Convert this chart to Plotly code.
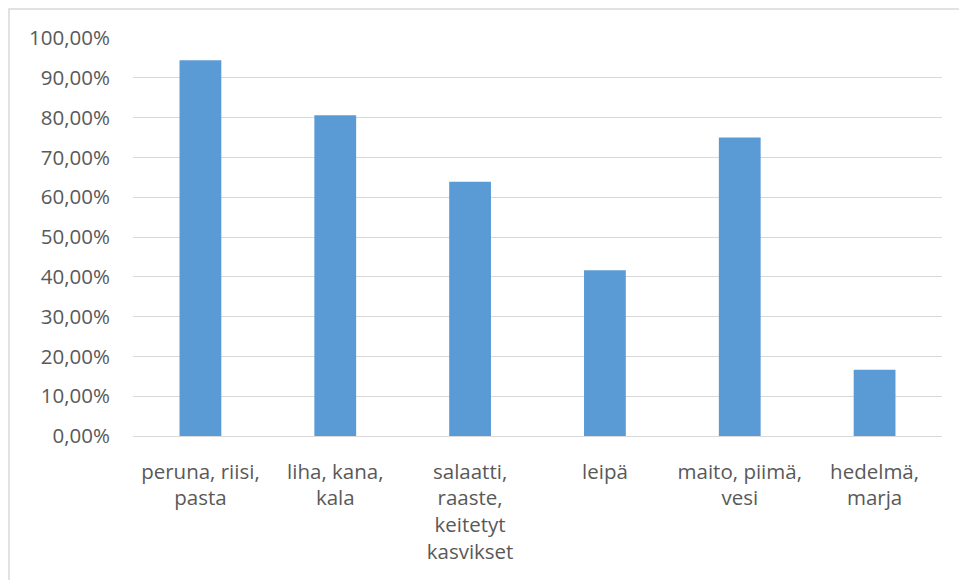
import plotly.graph_objects as go

# Food groups and the share of respondents choosing each
categories = [
    "peruna, riisi,<br>pasta",
    "liha, kana,<br>kala",
    "salaatti,<br>raaste,<br>keitetyt<br>kasvikset",
    "leipä",
    "maito, piimä,<br>vesi",
    "hedelmä,<br>marja",
]
shares = [0.9444, 0.8056, 0.6389, 0.4167, 0.75, 0.1667]
y_ticks = [0, 0.1, 0.2, 0.3, 0.4, 0.5, 0.6, 0.7, 0.8, 0.9, 1.0]

W, H = 959, 580
L, R, T, B = 133, 17, 38, 144
plot_w = W - L - R
plot_h = H - T - B

font = dict(family="Open Sans", size=20.5, color="#595959")

fig = go.Figure(
    go.Bar(
        x=categories,
        y=shares,
        marker=dict(color="#5b9bd5", line=dict(width=0)),
        hoverinfo="skip",
    )
)

fig.update_layout(
    width=W,
    height=H,
    margin=dict(l=L, r=R, t=T, b=B, pad=0),
    paper_bgcolor="white",
    plot_bgcolor="white",
    separators=", ",
    bargap=0.69,
    showlegend=False,
    font=font,
    shapes=[
        # chart frame, partly outside the visible page
        dict(
            type="rect",
            xref="paper",
            yref="paper",
            x0=(9 - L) / plot_w,
            x1=(W + 20 - L) / plot_w,
            y0=-(B + 20) / plot_h,
            y1=(H - B - 9) / plot_h,
            line=dict(color="#d9d9d9", width=1.5),
            fillcolor="rgba(0,0,0,0)",
            layer="below",
        )
    ],
)

fig.update_yaxes(
    range=[0, 1],
    tickvals=y_ticks,
    tickformat=".2%",
    showgrid=True,
    gridcolor="#d9d9d9",
    gridwidth=1,
    zeroline=False,
    showline=False,
    ticks="outside",
    ticklen=18,
    tickcolor="rgba(0,0,0,0)",
    tickfont=font,
    fixedrange=True,
)

fig.update_xaxes(
    showgrid=False,
    showline=True,
    linecolor="#d9d9d9",
    linewidth=1,
    ticks="outside",
    ticklen=17,
    tickcolor="rgba(0,0,0,0)",
    tickfont=font,
    tickangle=0,
    fixedrange=True,
)

fig.write_html("out.html")
